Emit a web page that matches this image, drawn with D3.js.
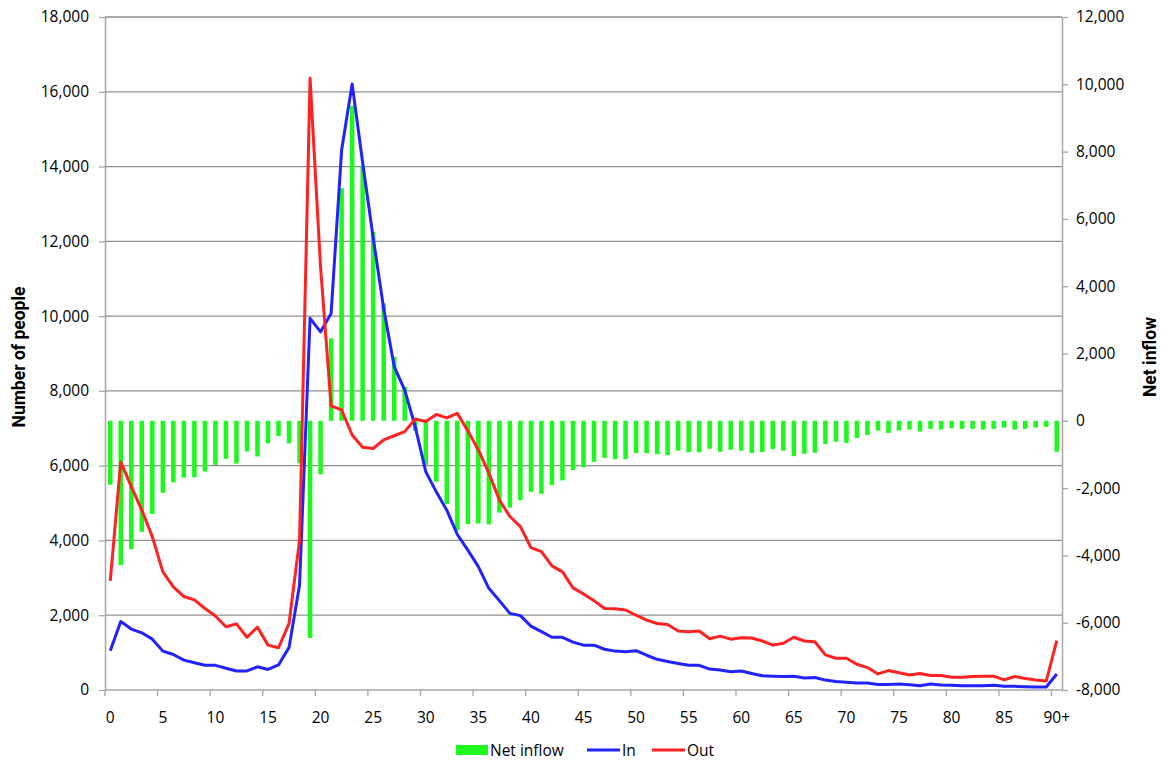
<!DOCTYPE html>
<html>
<head>
<meta charset="utf-8">
<script src="https://cdn.jsdelivr.net/npm/d3@7"></script>
<style>
  html, body { margin: 0; padding: 0; background: #fff; }
  svg { display: block; font-family: "Open Sans", "DejaVu Sans", sans-serif; }
</style>
</head>
<body>
<svg id="chart" width="1161" height="763"></svg>
<script>
// ---- Data ----
const categories = d3.range(0, 90).map(String).concat(["90+"]);

const netInflow = [
  -1900, -4290, -3820, -3300, -2770, -2140, -1830, -1690, -1680, -1510,
  -1310, -1130, -1270, -910, -1060, -670, -450, -670, -1260, -6450,
  -1590, 2450, 6910, 9360, 7580, 5620, 3490, 1900, 1010, -300,
  -1310, -1810, -2470, -3250, -3070, -3050, -3080, -2730, -2580, -2360,
  -2110, -2170, -1910, -1770, -1460, -1380, -1220, -1100, -1140, -1140,
  -960, -960, -990, -1020, -890, -930, -940, -830, -920, -860,
  -890, -960, -930, -840, -890, -1050, -980, -950, -690, -620,
  -660, -510, -420, -290, -360, -290, -260, -320, -240, -260,
  -220, -240, -240, -260, -240, -200, -260, -240, -200, -180,
  -920
];

const inflow = [
  1050, 1830, 1630, 1530, 1360, 1040, 950, 800, 730, 660,
  660, 580, 510, 510, 620, 550, 670, 1140, 2810, 9940,
  9580, 10070, 14440, 16210, 14100, 12100, 10200, 8650, 8020, 7040,
  5840, 5300, 4810, 4160, 3740, 3300, 2720, 2390, 2050, 1990,
  1710, 1560, 1410, 1410, 1280, 1200, 1200, 1090, 1040, 1020,
  1050, 930, 820, 760, 710, 660, 660, 560, 535, 490,
  510, 440, 380, 370, 360, 370, 320, 335, 265, 225,
  205, 187, 187, 145, 150, 160, 143, 116, 160, 134,
  125, 116, 116, 116, 125, 98, 98, 89, 80, 80,
  428
];

const outflow = [
  2920, 6100, 5440, 4810, 4100, 3160, 2760, 2500, 2410, 2180,
  1980, 1690, 1770, 1410, 1680, 1200, 1130, 1780, 4010, 16360,
  11300, 7600, 7490, 6820, 6490, 6460, 6690, 6800, 6910, 7250,
  7180, 7370, 7280, 7400, 6930, 6420, 5800, 5080, 4640, 4370,
  3810, 3700, 3320, 3160, 2730, 2570, 2390, 2180, 2170, 2140,
  2000, 1870, 1780, 1750, 1580, 1560, 1580, 1370, 1440, 1360,
  1400, 1390, 1310, 1200, 1250, 1410, 1310, 1290, 940, 850,
  850, 690, 600, 430, 520, 460, 400, 440, 390, 390,
  340, 340, 360, 370, 370, 270, 360, 310, 270, 240,
  1320
];

const leftTicks = d3.range(0, 18001, 2000);
const rightTicks = d3.range(-8000, 12001, 2000);
const xLabelCategories = categories.filter((c, i) => i % 5 === 0);

const leftTitle = "Number of people";
const rightTitle = "Net inflow";
const seriesNames = ["Net inflow", "In", "Out"];
const colors = { net: "#1ff81f", inn: "#2222ff", out: "#ff2222" };

// ---- Layout ----
const svg = d3.select("#chart");
const plot = { left: 105, right: 1062, top: 17, bottom: 690 };
const gridColor = "#8f8f8f";
const axisColor = "#a6a6a6";
const fontSize = 15.5;
const fmt = v => d3.format(",")(v).replace("\u2212", "-");

const x = d3.scaleBand().domain(categories).range([plot.left, plot.right]).padding(0);
const yL = d3.scaleLinear().domain([0, 18000]).range([plot.bottom, plot.top]);
const yR = d3.scaleLinear().domain([-8000, 12000]).range([plot.bottom, plot.top]);
const bw = x.bandwidth();
const barW = bw * 0.43;

// gridlines
svg.append("g").selectAll("line").data(leftTicks.slice(1)).join("line")
  .attr("x1", plot.left).attr("x2", plot.right)
  .attr("y1", d => yL(d)).attr("y2", d => yL(d))
  .attr("stroke", gridColor).attr("stroke-width", 1.3);

// bars (net inflow, right axis)
svg.append("g").selectAll("rect").data(categories).join("rect")
  .attr("x", (c) => x(c) + bw / 2 - barW / 2)
  .attr("width", barW)
  .attr("y", (c, i) => Math.min(yR(0), yR(netInflow[i])))
  .attr("height", (c, i) => Math.abs(yR(netInflow[i]) - yR(0)))
  .attr("fill", colors.net);

// lines
const line = d3.line().x((d, i) => x(categories[i]) + bw / 2).y(d => yL(d));
svg.append("path").datum(inflow).attr("d", line)
  .attr("fill", "none").attr("stroke", colors.inn).attr("stroke-width", 3).attr("stroke-linejoin", "round");
svg.append("path").datum(outflow).attr("d", line)
  .attr("fill", "none").attr("stroke", colors.out).attr("stroke-width", 3).attr("stroke-linejoin", "round");

// left axis
const gL = svg.append("g").attr("transform", `translate(${plot.left},0)`)
  .call(d3.axisLeft(yL).tickValues(leftTicks).tickFormat(fmt).tickSize(6).tickPadding(10).tickSizeOuter(0));
// right axis
const gR = svg.append("g").attr("transform", `translate(${plot.right},0)`)
  .call(d3.axisRight(yR).tickValues(rightTicks).tickFormat(fmt).tickSize(6).tickPadding(8).tickSizeOuter(0));
[gL, gR].forEach(g => {
  g.select(".domain").attr("stroke", axisColor).attr("stroke-width", 1.5);
  g.selectAll(".tick line").attr("stroke", axisColor).attr("stroke-width", 1.3);
  g.selectAll(".tick text").attr("fill", "#000").style("font-size", fontSize + "px")
    .style("font-family", '"Open Sans", sans-serif');
});

// bottom axis
const gB = svg.append("g");
gB.append("line").attr("x1", plot.left).attr("x2", plot.right)
  .attr("y1", plot.bottom).attr("y2", plot.bottom)
  .attr("stroke", axisColor).attr("stroke-width", 1.5);
gB.selectAll("line.tk").data(xLabelCategories).join("line").attr("class", "tk")
  .attr("x1", c => x(c)).attr("x2", c => x(c))
  .attr("y1", plot.bottom).attr("y2", plot.bottom + 6)
  .attr("stroke", axisColor).attr("stroke-width", 1.3);
gB.selectAll("text").data(xLabelCategories).join("text")
  .attr("x", c => x(c) + bw / 2).attr("y", 723)
  .attr("text-anchor", "middle").style("font-size", fontSize + "px")
  .text(c => c);

// axis titles
svg.append("text").attr("transform", "translate(25,357) rotate(-90)")
  .attr("text-anchor", "middle").style("font-size", "17.5px").style("font-weight", "bold")
  .style("font-family", "Roboto, sans-serif")
  .text(leftTitle);
svg.append("text").attr("transform", "translate(1156,357) rotate(-90)")
  .attr("text-anchor", "middle").style("font-size", "17.5px").style("font-weight", "bold")
  .style("font-family", "Roboto, sans-serif")
  .text(rightTitle);

// legend
const lg = svg.append("g");
lg.append("rect").attr("x", 456).attr("y", 745).attr("width", 32).attr("height", 10).attr("fill", colors.net);
lg.append("text").attr("x", 490).attr("y", 756).style("font-size", fontSize + "px").text(seriesNames[0]);
lg.append("line").attr("x1", 587).attr("x2", 620).attr("y1", 750).attr("y2", 750)
  .attr("stroke", colors.inn).attr("stroke-width", 3);
lg.append("text").attr("x", 622).attr("y", 756).style("font-size", fontSize + "px").text(seriesNames[1]);
lg.append("line").attr("x1", 652).attr("x2", 685).attr("y1", 750).attr("y2", 750)
  .attr("stroke", colors.out).attr("stroke-width", 3);
lg.append("text").attr("x", 687).attr("y", 756).style("font-size", fontSize + "px").text(seriesNames[2]);
</script>
</body>
</html>
